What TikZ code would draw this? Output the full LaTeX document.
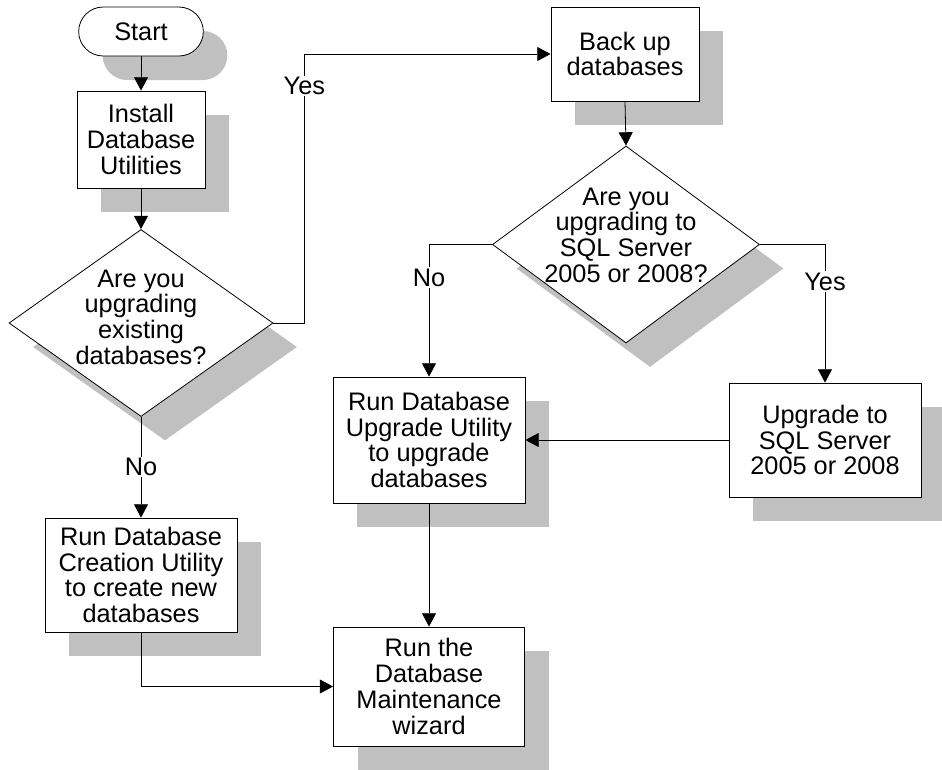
\documentclass[tikz,border=0pt]{standalone}
\usepackage{fontspec}
\setmainfont{Liberation Sans}
\usetikzlibrary{shapes.geometric,shapes.misc,arrows.meta,shadows}
\definecolor{shade}{RGB}{192,192,192}
\tikzset{
    boxshadow/.style = {drop shadow={shadow xshift=18pt, shadow yshift=-18pt, fill=shade, opacity=1}},
    proc/.style = {draw, fill=white, rectangle, inner sep=2pt, align=center, boxshadow},
    terminal/.style = {draw, fill=white, rounded rectangle, inner sep=2pt, boxshadow},
    decision/.style = {draw, fill=white, diamond, inner sep=0pt, boxshadow},
    qtext/.style = {align=center, inner sep=0pt},
    lbl/.style = {fill=white, inner sep=1pt},
    flow/.style = {-{Triangle[length=10pt, width=10.5pt]}},
}
\begin{document}
\begin{tikzpicture}[x=0.75pt, y=-0.75pt, line width=0.6pt, font=\fontsize{19}{19.3}\selectfont]
    \useasboundingbox (0,0) rectangle (942,769);

    % left column
    \node[terminal, minimum width=97.5pt, minimum height=36.75pt] (start) at (141,31.5) {Start};
    \node[proc, minimum width=96pt, minimum height=72.75pt] (install) at (141,139.5) {Install\\Database\\Utilities};
    \node[decision, minimum width=198pt, minimum height=140.25pt] (dec1) at (141,323) {};
    \node[qtext] (dec1txt) at (141,317) {Are you\\upgrading\\existing\\databases?};
    \node[proc, minimum width=144pt, minimum height=85.5pt] (rdc) at (141,575) {Run Database\\Creation Utility\\to create new\\databases};

    % right part
    \node[proc, minimum width=111pt, minimum height=70.5pt] (backup) at (625,54) {Back up\\databases};
    \node[decision, minimum width=200.25pt, minimum height=147.75pt] (dec2) at (626,244.5) {};
    \node[qtext] (dec2txt) at (626,235) {Are you\\upgrading to\\SQL Server\\2005 or 2008?};
    \node[proc, minimum width=144pt, minimum height=94.5pt] (rdu) at (429,440) {Run Database\\Upgrade Utility\\to upgrade\\databases};
    \node[proc, minimum width=144pt, minimum height=85.5pt] (usql) at (825,440) {Upgrade to\\SQL Server\\2005 or 2008};
    \node[proc, minimum width=143.25pt, minimum height=89.25pt] (rdm) at (429,686.5) {Run the\\Database\\Maintenance\\wizard};

    \draw[flow] (start.south) -- (install.north);
    \draw[flow] (install.south) -- (dec1.north);
    \draw[flow] (dec1.east) -- ++(31,0) |- (backup.west) node[lbl, pos=0.44] {Yes};
    \draw[flow] (dec1.south) -- (rdc.north) node[lbl, midway] {No};
    \draw[flow] (backup.south) -- (dec2.north);
    \draw[flow] (dec2.west) -| (rdu.north) node[lbl, pos=0.625] {No};
    \draw[flow] (dec2.east) -| (usql.north) node[lbl, pos=0.634] {Yes};
    \draw[flow] (usql.west) -- (rdu.east);
    \draw[flow] (rdu.south) -- (rdm.north);
    \draw[flow] (rdc.south) |- (rdm.west);

\end{tikzpicture}
\end{document}
